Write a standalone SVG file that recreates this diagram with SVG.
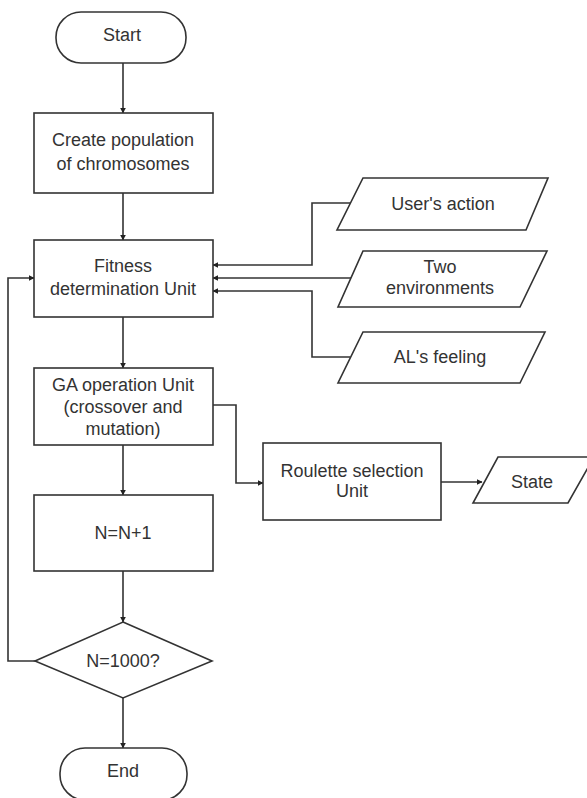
<svg xmlns="http://www.w3.org/2000/svg" width="587" height="798" viewBox="0 0 587 798">
<style>
  .shape { fill: #ffffff; stroke: #333333; stroke-width: 1.6; }
  .conn { fill: none; stroke: #333333; stroke-width: 1.6; }
  text { font-family: "Liberation Sans", Arial, sans-serif; font-size: 18px; fill: #333333; text-anchor: middle; }
</style>
<defs>
  <marker id="arrow" viewBox="0 0 10 10" refX="9" refY="5" markerWidth="6" markerHeight="6" orient="auto" markerUnits="userSpaceOnUse">
    <path d="M0,0 L10,5 L0,10 z" fill="#222222"/>
  </marker>
</defs>
<rect width="587" height="798" fill="#ffffff"/>

<g id="connectors">
  <path class="conn" d="M123,63 V113" marker-end="url(#arrow)"/>
  <path class="conn" d="M123,193 V240" marker-end="url(#arrow)"/>
  <path class="conn" d="M350,203 H312 V265 H213" marker-end="url(#arrow)"/>
  <path class="conn" d="M352,278 H213" marker-end="url(#arrow)"/>
  <path class="conn" d="M350,357 H312 V291 H213" marker-end="url(#arrow)"/>
  <path class="conn" d="M123,317 V368" marker-end="url(#arrow)"/>
  <path class="conn" d="M213,405 H236 V483 H263" marker-end="url(#arrow)"/>
  <path class="conn" d="M441,482 H482" marker-end="url(#arrow)"/>
  <path class="conn" d="M123,445 V495" marker-end="url(#arrow)"/>
  <path class="conn" d="M123,571 V622" marker-end="url(#arrow)"/>
  <path class="conn" d="M35,661 H8 V278 H34" marker-end="url(#arrow)"/>
  <path class="conn" d="M123,698 V748" marker-end="url(#arrow)"/>
</g>

<g id="start">
  <rect class="shape" x="56" y="12" width="130" height="51" rx="25" ry="25"/>
  <text x="122" y="41">Start</text>
</g>

<g id="create">
  <rect class="shape" x="34" y="113" width="179" height="80"/>
  <text x="123" y="146">Create population</text>
  <text x="123" y="170">of chromosomes</text>
</g>

<g id="fitness">
  <rect class="shape" x="34" y="240" width="179" height="77"/>
  <text x="123" y="272">Fitness</text>
  <text x="123" y="295">determination Unit</text>
</g>

<g id="users-action">
  <polygon class="shape" points="363,178 548,178 526,230 337,230"/>
  <text x="443" y="210">User's action</text>
</g>

<g id="two-environments">
  <polygon class="shape" points="363,251 547,251 520,307 338,307"/>
  <text x="440" y="273">Two</text>
  <text x="440" y="294">environments</text>
</g>

<g id="al-feeling">
  <polygon class="shape" points="363,332 545,332 520,383 338,383"/>
  <text x="440" y="363">AL's feeling</text>
</g>

<g id="ga-operation">
  <rect class="shape" x="34" y="368" width="179" height="77"/>
  <text x="123" y="391">GA operation Unit</text>
  <text x="123" y="413">(crossover and</text>
  <text x="123" y="435">mutation)</text>
</g>

<g id="roulette">
  <rect class="shape" x="263" y="443" width="178" height="77"/>
  <text x="352" y="477">Roulette selection</text>
  <text x="352" y="497">Unit</text>
</g>

<g id="state">
  <polygon class="shape" points="498,457 594,457 568,503 473,503"/>
  <text x="532" y="488">State</text>
</g>

<g id="increment">
  <rect class="shape" x="34" y="495" width="179" height="76"/>
  <text x="123" y="539">N=N+1</text>
</g>

<g id="decision">
  <polygon class="shape" points="123,622 212,661 123,698 35,661"/>
  <text x="123" y="667">N=1000?</text>
</g>

<g id="end">
  <rect class="shape" x="60" y="748" width="127" height="52" rx="25" ry="25"/>
  <text x="123" y="777">End</text>
</g>
</svg>
